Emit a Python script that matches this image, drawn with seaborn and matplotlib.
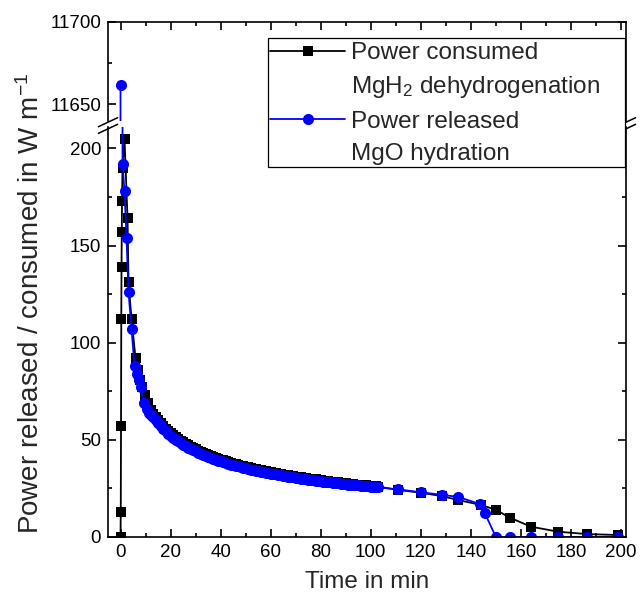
import matplotlib
matplotlib.use("Agg")
import matplotlib.pyplot as plt
import seaborn as sns
import pandas as pd
from matplotlib.lines import Line2D
from matplotlib.patches import Rectangle
from matplotlib.ticker import MultipleLocator

# ---------------- data ----------------
consumed_time = [0, 0.1, 0.2, 0.3, 0.4, 0.5, 0.6, 0.8, 1.6, 2.8, 3.2, 4.4, 6.0, 6.8, 7.6, 8.4, 9.6, 10.8,
                 12, 13, 14, 15, 16, 17, 18, 19, 20, 21, 22, 23, 24, 25, 26, 27, 28, 29, 30,
                 31, 32, 33, 34, 35, 36, 37, 38, 39, 40, 41, 42, 43, 44, 45, 46, 47, 48, 49, 50,
                 51, 52, 53, 54, 55, 56, 57, 58, 59, 60, 61, 62, 63, 64, 65, 66, 67, 68, 69, 70,
                 71, 72, 73, 74, 75, 76, 77, 78, 79, 80, 81, 82, 83, 84, 85, 86, 87, 88, 89, 90,
                 91, 92, 93, 94, 95, 96, 97, 98, 99, 100, 101, 102, 103,
                 111, 120, 128.5, 135, 144, 150, 155.5, 164, 175, 186.5, 199]
consumed_power = [0, 13, 57, 112, 139, 157, 173, 190, 205, 164, 131, 112, 92, 86, 81, 77, 73, 69,
                  65.5, 63.5, 61.8, 60.0, 58.5, 57.0, 55.7, 54.6, 53.5, 52.4, 51.4, 50.5, 49.6, 48.7, 47.9, 47.1, 46.4, 45.7, 45.1,
                  44.4, 43.8, 43.2, 42.7, 42.1, 41.6, 41.1, 40.7, 40.2, 39.8, 39.4, 38.9, 38.5, 38.2, 37.8, 37.4, 37.1, 36.7, 36.4, 36.1,
                  35.8, 35.5, 35.2, 34.9, 34.6, 34.3, 34.1, 33.8, 33.6, 33.3, 33.1, 32.8, 32.6, 32.4, 32.1, 31.9, 31.7, 31.5, 31.3, 31.1,
                  30.9, 30.7, 30.5, 30.3, 30.1, 29.9, 29.7, 29.6, 29.4, 29.2, 29.0, 28.9, 28.7, 28.5, 28.4, 28.2, 28.1, 27.9, 27.8, 27.6,
                  27.5, 27.3, 27.2, 27.0, 26.9, 26.8, 26.6, 26.5, 26.4, 26.2, 26.1, 26.0, 25.9,
                  24.2, 22.8, 21.0, 19.0, 16.5, 14.0, 10.0, 5.3, 2.7, 1.5, 1.0]

released_time = [0, 0.8, 1.6, 2.4, 3.2, 4.4, 5.6, 6.4, 7.2, 8.0, 9.2, 10.4, 11.2,
                 12, 13, 14, 15, 16, 17, 18, 19, 20, 21, 22, 23, 24, 25, 26, 27, 28, 29, 30,
                 31, 32, 33, 34, 35, 36, 37, 38, 39, 40, 41, 42, 43, 44, 45, 46, 47, 48, 49, 50,
                 51, 52, 53, 54, 55, 56, 57, 58, 59, 60, 61, 62, 63, 64, 65, 66, 67, 68, 69, 70,
                 71, 72, 73, 74, 75, 76, 77, 78, 79, 80, 81, 82, 83, 84, 85, 86, 87, 88, 89, 90,
                 91, 92, 93, 94, 95, 96, 97, 98, 99, 100, 101, 102, 103,
                 111, 120, 128.5, 135, 143.5, 145.5, 150, 155.5, 164, 175, 186.5, 199]
released_power = [11662, 192, 178, 154, 126, 107, 88, 84, 81, 77, 69, 66, 64,
                  63.0, 61.5, 60.0, 58.5, 57.0, 55.5, 54.3, 53.2, 52.1, 51.1, 50.1, 49.2, 48.3, 47.5, 46.7, 46.0, 45.3, 44.6, 44.0,
                  43.4, 42.8, 42.2, 41.7, 41.2, 40.7, 40.2, 39.8, 39.3, 38.9, 38.5, 38.1, 37.7, 37.3, 37.0, 36.6, 36.3, 36.0, 35.6, 35.3,
                  35.0, 34.7, 34.4, 34.2, 33.9, 33.6, 33.4, 33.1, 32.9, 32.6, 32.4, 32.2, 31.9, 31.7, 31.5, 31.3, 31.1, 30.9, 30.7, 30.5,
                  30.3, 30.1, 29.9, 29.7, 29.5, 29.4, 29.2, 29.0, 28.9, 28.7, 28.5, 28.4, 28.2, 28.1, 27.9, 27.8, 27.6, 27.5, 27.3, 27.2,
                  27.0, 26.9, 26.8, 26.6, 26.5, 26.4, 26.2, 26.1, 26.0, 25.9, 25.8, 25.7, 25.5,
                  24.5, 23.0, 21.7, 20.6, 17.0, 12.5, 0, 0, 0, 0, 0, 0]

legend_labels = ["Power consumed", "MgH$_2$ dehydrogenation", "Power released", "MgO hydration"]
x_label = "Time in min"
y_label = "Power released / consumed in W m$^{-1}$"

# ---------------- style ----------------
sns.set_style("ticks")
plt.rcParams["font.family"] = ["Liberation Sans", "DejaVu Sans"]
plt.rcParams["mathtext.fontset"] = "custom"
plt.rcParams["mathtext.rm"] = "Liberation Sans"
plt.rcParams["mathtext.it"] = "Liberation Sans:italic"
plt.rcParams["xtick.direction"] = "in"
plt.rcParams["ytick.direction"] = "in"

df_c = pd.DataFrame({"t": consumed_time, "p": consumed_power})
df_r = pd.DataFrame({"t": released_time, "p": released_power})

fig = plt.figure(figsize=(6.41, 6.02), dpi=100)
L, W = 0.1685, 0.9766 - 0.1685
ax_top = fig.add_axes([L, 0.799, W, 0.9635 - 0.799])
ax_bot = fig.add_axes([L, 0.108, W, 0.789 - 0.108])

for ax in (ax_top, ax_bot):
    sns.lineplot(data=df_c, x="t", y="p", ax=ax, color="black", marker="s",
                 markersize=6.5, markeredgewidth=0, linewidth=1.3,
                 estimator=None, sort=False, legend=False)
    sns.lineplot(data=df_r, x="t", y="p", ax=ax, color="#0000ff", marker="o",
                 markersize=8, markeredgewidth=0, linewidth=1.3,
                 estimator=None, sort=False, legend=False)
    ax.set_xlim(-5, 202)
    ax.xaxis.set_major_locator(MultipleLocator(20))
    ax.xaxis.set_minor_locator(MultipleLocator(10))
    ax.yaxis.set_major_locator(MultipleLocator(50))
    ax.yaxis.set_minor_locator(MultipleLocator(25))
    ax.set_xlabel("")
    ax.set_ylabel("")
    for s in ax.spines.values():
        s.set_linewidth(1.2)
        s.set_color("black")
    ax.tick_params(which="major", length=6, width=1.2, labelsize=13.5, colors="black", pad=5)
    ax.tick_params(which="minor", length=3, width=1.2, colors="black")

ax_top.set_ylim(11640, 11700)
ax_bot.set_ylim(0, 211)

ax_top.spines["bottom"].set_visible(False)
ax_bot.spines["top"].set_visible(False)
ax_top.tick_params(which="both", top=True, bottom=False, labelbottom=False, right=True, left=True)
ax_bot.tick_params(which="both", top=False, bottom=True, right=True, left=True)

ax_bot.set_xlabel(x_label, fontsize=17.5, labelpad=7)
fig.text(0.048, 0.497, y_label, rotation=90, fontsize=20, ha="center", va="center")

# break marks
for xf in (L, L + W):
    for yf in (0.797, 0.786):
        fig.add_artist(Line2D([xf - 0.015, xf + 0.015], [yf - 0.0075, yf + 0.0075],
                              transform=fig.transFigure, color="black", linewidth=1.1))

# legend frame (drawn as its own box) and legend entries
fig.add_artist(Rectangle((268 / 641, 1 - 167 / 602), (625 - 268) / 641, 129 / 602,
                         transform=fig.transFigure, facecolor="white",
                         edgecolor="black", linewidth=0.9, zorder=4))
h_c = Line2D([], [], color="black", marker="s", markersize=6.5, markeredgewidth=0, linewidth=1.3)
h_r = Line2D([], [], color="#0000ff", marker="o", markersize=8, markeredgewidth=0, linewidth=1.3)
blank = Line2D([], [], color="none")
leg = fig.legend(handles=[h_c, blank, h_r, blank], labels=legend_labels,
                 loc="upper left", bbox_to_anchor=(270 / 641, 1 - 42 / 602),
                 frameon=False, fontsize=17.5, handlelength=3.1, handletextpad=0.25,
                 labelspacing=0.43, borderpad=0.0, numpoints=1, borderaxespad=0)
leg.set_zorder(5)

fig.savefig("out.png", dpi=100)
